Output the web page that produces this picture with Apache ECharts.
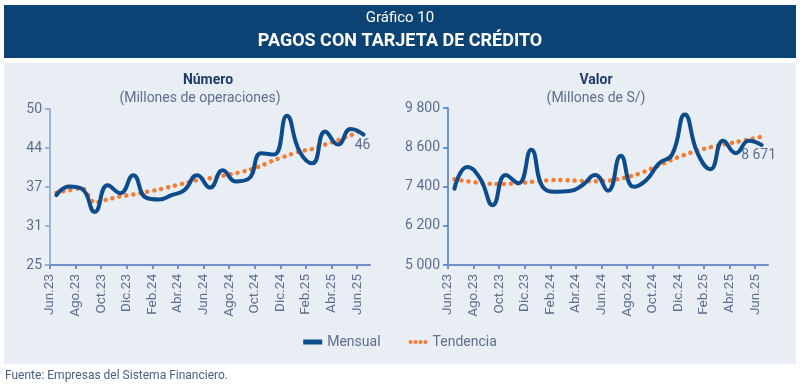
<!DOCTYPE html>
<html><head><meta charset="utf-8">
<script src="https://cdn.jsdelivr.net/npm/echarts@6/dist/echarts.min.js"></script>
<style>html,body{margin:0;padding:0;background:#fff}#c{width:800px;height:387px}</style>
</head><body><div id="c"></div>
<script>
const months = ['Jun.23','Jul.23','Ago.23','Set.23','Oct.23','Nov.23','Dic.23','Ene.24','Feb.24','Mar.24','Abr.24','May.24','Jun.24','Jul.24','Ago.24','Set.24','Oct.24','Nov.24','Dic.24','Ene.25','Feb.25','Mar.25','Abr.25','May.25','Jun.25'];
const numeroMensual = [36.2,37.6,37.2,33.5,37.8,36.5,39.4,35.8,35.5,36.2,37.0,39.4,37.4,40.2,38.4,38.8,42.9,42.7,48.9,43.2,41.3,46.4,44.3,46.8,45.9];
const numeroTendencia = [36.6,37.0,37.3,35.0,35.5,36.0,36.3,36.7,37.1,37.6,38.1,38.6,38.9,39.3,39.7,40.2,40.9,41.8,42.5,43.2,43.6,44.3,45.0,45.8,46.7];
const valorMensual = [7330,8000,7650,6830,7750,7500,8520,7340,7240,7260,7440,7750,7270,8340,7390,7600,8110,8370,9600,8420,7930,8800,8420,8800,8671];
const valorTendencia = [7620,7560,7510,7480,7480,7500,7540,7580,7600,7590,7570,7560,7580,7640,7740,7880,8050,8220,8370,8500,8600,8680,8760,8840,8920];
const numeroTicks = [25,31,37,44,50];
const valorTicks = [5000,6200,7400,8600,9800];

const labelMonths = months.map((m,i)=>i).filter(i=>i%2===0);
const BLUE = '#0d4c8c', ORANGE = '#f07d32', TXT = '#5b6f8f';
const fmtSp = v => String(Math.round(v)).replace(/\B(?=(\d{3})+(?!\d))/g,' ');

function lineData(arr) {
  return arr.map((v,i) => [i+0.5, v]);
}
function xAxisCfg(gi) {
  return {type:'value', gridIndex:gi, min:0, max:25,
    axisLine:{show:true, onZero:false, lineStyle:{color:'#6f93c9', width:2}},
    axisTick:{show:true, length:4, lineStyle:{color:'#6f93c9', width:2}, customValues: labelMonths},
    axisLabel:{rotate:90, margin:9, color:TXT, fontSize:13.5, fontFamily:'Roboto', customValues: labelMonths, formatter: v => months[Math.round(v)] || ''},
    splitLine:{show:false}};
}
const legendDots = 'path://M0,1a1,1 0 1,0 2,0a1,1 0 1,0 -2,0z M2.4,1a1,1 0 1,0 2,0a1,1 0 1,0 -2,0z M4.8,1a1,1 0 1,0 2,0a1,1 0 1,0 -2,0z M7.2,1a1,1 0 1,0 2,0a1,1 0 1,0 -2,0z';

const chart = echarts.init(document.getElementById('c'), null, {renderer:'canvas'});
chart.setOption({
  animation:false,
  backgroundColor:'#ffffff',
  graphic:[
    {type:'rect', shape:{x:4,y:5,width:792,height:53}, style:{fill:'#0b4474'}, z:-10},
    {type:'rect', shape:{x:4,y:63,width:792,height:301}, style:{fill:'#e9eef5'}, z:-10},
    {type:'text', left:'center', top:11, style:{text:'Gráfico 10', fill:'#ffffff', font:'15px Roboto'}},
    {type:'text', left:'center', top:32, style:{text:'PAGOS CON TARJETA DE CRÉDITO', fill:'#ffffff', font:'bold 18px Roboto'}},
    {type:'text', x:208, y:80, style:{text:'Número', fill:'#1d3c6e', font:'bold 14px Roboto', align:'center', verticalAlign:'middle'}},
    {type:'text', x:200, y:98, style:{text:'(Millones de operaciones)', fill:TXT, font:'14px Roboto', align:'center', verticalAlign:'middle'}},
    {type:'text', x:596, y:80, style:{text:'Valor', fill:'#1d3c6e', font:'bold 14px Roboto', align:'center', verticalAlign:'middle'}},
    {type:'text', x:596, y:98, style:{text:'(Millones de S/)', fill:TXT, font:'14px Roboto', align:'center', verticalAlign:'middle'}},
    {type:'text', x:5, y:370, style:{text:'Fuente: Empresas del Sistema Financiero.', fill:'#4a6088', font:'12px Roboto'}}
  ],
  legend:{
    bottom:33, left:'center', itemGap:28, itemWidth:19, itemHeight:5,
    textStyle:{color:TXT, fontSize:14, fontFamily:'Roboto'},
    data:[{name:'Mensual', icon:'rect', itemStyle:{color:BLUE}}, {name:'Tendencia', icon:legendDots, itemStyle:{color:ORANGE}}]
  },
  grid:[
    {left:50, top:109, width:320, height:156},
    {left:448, top:108, width:320, height:157}
  ],
  xAxis:[xAxisCfg(0), xAxisCfg(1)],
  yAxis:[
    {type:'value', gridIndex:0, min:25, max:50, interval:6.25,
     axisLine:{show:true, lineStyle:{color:'#9bb2d2', width:2}},
     axisTick:{show:true, length:5, lineStyle:{color:'#9bb2d2', width:2}},
     axisLabel:{margin:8, color:TXT, fontSize:14, fontFamily:'Roboto', formatter: v => numeroTicks[Math.round((v-25)/6.25)]},
     splitLine:{show:false}},
    {type:'value', gridIndex:1, min:5000, max:9800,
     axisLine:{show:true, lineStyle:{color:'#3e78c2', width:1.5}},
     axisTick:{show:true, length:5, lineStyle:{color:'#3e78c2', width:1.5}, customValues: valorTicks},
     axisLabel:{margin:8, color:TXT, fontSize:14, fontFamily:'Roboto', customValues: valorTicks, formatter: fmtSp},
     splitLine:{show:false}}
  ],
  series:[
    {name:'Tendencia', type:'line', xAxisIndex:0, yAxisIndex:0, data:lineData(numeroTendencia), smooth:0.3, symbol:'none',
     lineStyle:{color:ORANGE, width:4.5, type:[0.1,7], cap:'round'}, z:2},
    {name:'Mensual', type:'line', xAxisIndex:0, yAxisIndex:0, data:lineData(numeroMensual), smooth:0.5, symbol:'none',
     lineStyle:{color:BLUE, width:4, cap:'round'}, z:3,
     endLabel:{show:true, distance:0, align:'center', verticalAlign:'middle', offset:[-1,11], color:TXT, fontSize:14, fontFamily:'Roboto',
       formatter: p => String(Math.round(p.value[1]))}},
    {name:'Tendencia', type:'line', xAxisIndex:1, yAxisIndex:1, data:lineData(valorTendencia), smooth:0.3, symbol:'none',
     lineStyle:{color:ORANGE, width:4.5, type:[0.1,7], cap:'round'}, z:2},
    {name:'Mensual', type:'line', xAxisIndex:1, yAxisIndex:1, data:lineData(valorMensual), smooth:0.5, symbol:'none',
     lineStyle:{color:BLUE, width:4, cap:'round'}, z:3,
     endLabel:{show:true, distance:0, align:'center', verticalAlign:'middle', offset:[-3,11], color:TXT, fontSize:14, fontFamily:'Roboto',
       formatter: p => fmtSp(p.value[1])}}
  ]
});
</script></body></html>
